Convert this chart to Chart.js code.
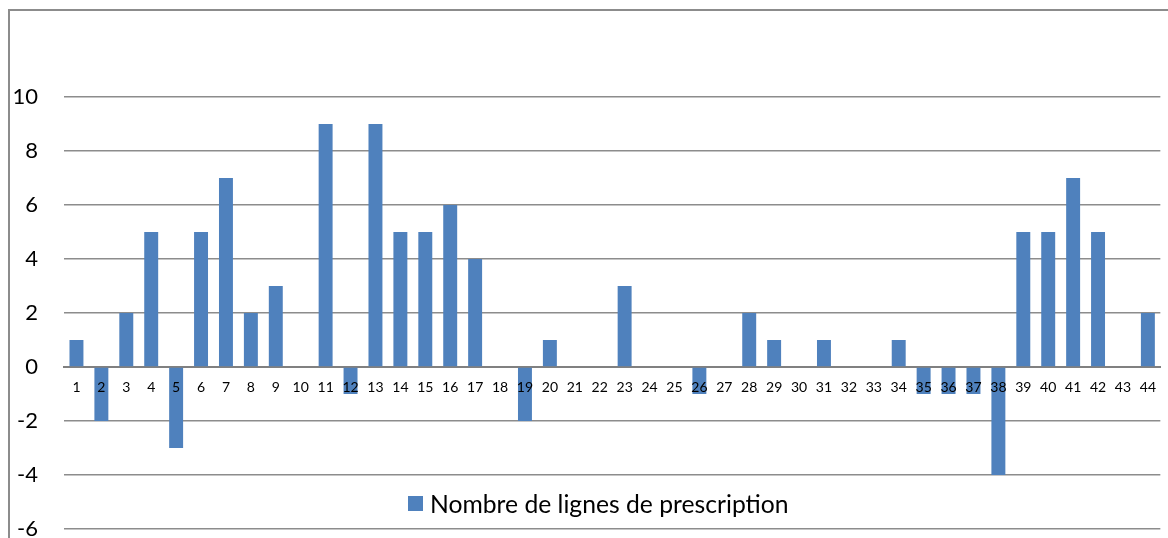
<!DOCTYPE html>
<html>
<head>
<meta charset="utf-8">
<script src="https://cdn.jsdelivr.net/npm/chart.js@4/dist/chart.umd.min.js"></script>
<style>
  html, body { margin: 0; padding: 0; background: #fff; }
  #wrap { position: relative; width: 1168px; height: 538px; overflow: hidden; }
  #plot { position: absolute; left: 0; top: 0; width: 1168px; height: 538px; }
  #legend {
    position: absolute; left: 408px; top: 489px;
    display: flex; align-items: center;
    font-family: Lato, "Open Sans", sans-serif; font-size: 24.7px; color: #000;
    white-space: nowrap;
  }
  #legend .sw { width: 15px; height: 15px; margin-right: 7px; }
</style>
</head>
<body>
<div id="wrap">
  <div id="plot"><canvas id="c"></canvas></div>
  <div id="legend"></div>
</div>
<script>
// Categories 1..44
const categories = ['1','2','3','4','5','6','7','8','9','10','11','12','13','14','15','16','17','18','19','20','21','22','23','24','25','26','27','28','29','30','31','32','33','34','35','36','37','38','39','40','41','42','43','44'];
// Nombre de lignes de prescription (écart) per category
const seriesLabel = 'Nombre de lignes de prescription';
const seriesValues = [1,-2,2,5,-3,5,7,2,3,0,9,-1,9,5,5,6,4,0,-2,1,0,0,3,0,0,-1,0,2,1,0,1,0,0,1,-1,-1,-1,-4,5,5,7,5,0,2];
// Value axis range and step
const yMin = -6;
const yMax = 10;
const yStep = 2;

const barColor = '#4f81bd';
const gridColor = '#8c8c8c';
const plotBottom = 529; // where the lowest gridline should sit

// Outer frame of the chart (left and top edges)
const framePlugin = {
  id: 'frame',
  afterDraw(chart) {
    const ctx = chart.ctx;
    ctx.save();
    ctx.strokeStyle = gridColor;
    ctx.lineWidth = 2;
    ctx.beginPath();
    ctx.moveTo(9, chart.height);
    ctx.lineTo(9, 10);
    ctx.lineTo(chart.width, 10);
    ctx.stroke();
    ctx.restore();
  }
};

const chart = new Chart(document.getElementById('c'), {
  type: 'bar',
  data: {
    labels: categories,
    datasets: [{
      label: seriesLabel,
      data: seriesValues,
      backgroundColor: barColor,
      borderWidth: 0,
      barPercentage: 0.56,
      categoryPercentage: 1.0
    }]
  },
  options: {
    responsive: true,
    maintainAspectRatio: false,
    animation: false,
    layout: { padding: { top: 97, bottom: 9, left: 0, right: 0 } },
    plugins: {
      legend: { display: false },
      tooltip: { enabled: false }
    },
    scales: {
      x: {
        position: { y: 0 },
        grid: { display: false, drawTicks: false },
        border: { display: true, color: '#808080', width: 2 },
        ticks: {
          z: 1,
          autoSkip: false,
          maxRotation: 0,
          padding: 12,
          color: '#000',
          font: { family: 'Lato, "Open Sans", sans-serif', size: 14 }
        }
      },
      y: {
        min: yMin,
        max: yMax,
        afterFit(scale) { scale.width = 64; },
        grid: { color: gridColor, lineWidth: 1.5, drawTicks: false },
        border: { display: false },
        ticks: {
          stepSize: yStep,
          padding: 26,
          color: '#000',
          font: { family: 'Lato, "Open Sans", sans-serif', size: 22 }
        }
      }
    }
  },
  plugins: [framePlugin]
});

// The x axis sits on the zero line but still reserves room below the plot;
// grow the drawing surface by that amount (the outer box clips it).
const extra = plotBottom - chart.chartArea.bottom;
if (extra > 0) {
  const plot = document.getElementById('plot');
  plot.style.height = (538 + extra) + 'px';
  chart.resize(1168, 538 + extra);
}

// Legend built from the dataset
const lg = document.getElementById('legend');
chart.data.datasets.forEach(ds => {
  const sw = document.createElement('span');
  sw.className = 'sw';
  sw.style.background = ds.backgroundColor;
  const tx = document.createElement('span');
  tx.textContent = ds.label;
  lg.appendChild(sw);
  lg.appendChild(tx);
});
</script>
</body>
</html>
